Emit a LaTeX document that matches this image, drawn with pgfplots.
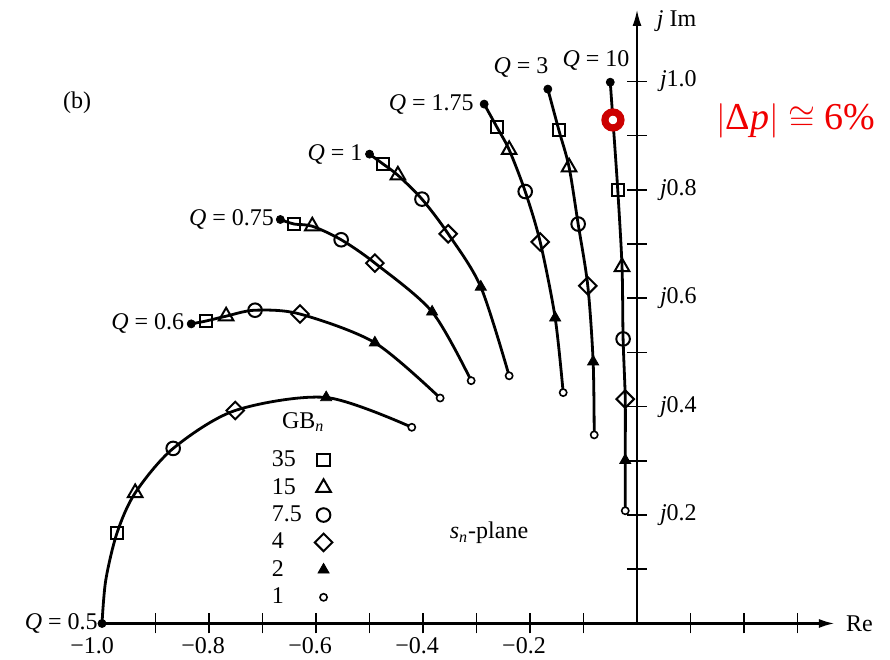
\documentclass[border=0pt]{standalone}
\usepackage{fontspec}
\setmainfont{Liberation Serif}
\usepackage{pgfplots}
\pgfplotsset{compat=1.18}
\usetikzlibrary{arrows.meta}

\definecolor{ringred}{RGB}{204,0,0}
\definecolor{notered}{RGB}{240,0,0}

\begin{document}
\begin{tikzpicture}[font=\fontsize{12}{14}\selectfont]
\begin{axis}[
  x=267.5pt, y=271pt,
  axis lines=middle,
  xmin=-1, xmax=0.37, ymin=0, ymax=1.132,
  enlargelimits=false, clip=false,
  x axis line style={line width=1.3pt, -{Latex[length=8pt,width=4.5pt]}},
  y axis line style={line width=0.8pt, -{Latex[length=8pt,width=4.5pt]}},
  tick style={line width=0.8pt, black},
  major tick length=10pt, tick align=center,
  xtick={-0.9,-0.8,-0.7,-0.6,-0.5,-0.4,-0.3,-0.2,-0.1,0,0.1,0.2,0.3},
  xticklabels={{},{−0.8},{},{−0.6},{},{−0.4},{},{−0.2},{},{0},{},{},{}},
  xticklabel style={xshift=-3pt, yshift=1.5pt},
  extra x ticks={-1},
  extra x tick labels={{\makebox[0pt]{\hspace*{-4pt}−1.0}}},
  extra x tick style={tick style={draw=none}},
  ytick={0.1,0.2,0.3,0.4,0.5,0.6,0.7,0.8,0.9,1.0},
  yticklabels={{},{\textit{j}0.2},{},{\textit{j}0.4},{},{\textit{j}0.6},{},{\textit{j}0.8},{},{\textit{j}1.0}},
  yticklabel style={anchor=west, xshift=13pt},
  xlabel={Re},
  xlabel style={at={(axis cs:0.37,0)}, anchor=west, xshift=2pt},
  ylabel={\textit{j} Im},
  ylabel style={at={(axis cs:0.024,1.112)}, anchor=west, rotate=0},
  legend style={at={(axis cs:-0.689,0.325)}, anchor=north west,
    draw=none, fill=none, inner sep=0pt, row sep=1.3pt, column sep=5pt,
    nodes={inner sep=1.5pt}},
  legend cell align=left,
  legend plot pos=right,
]

% loci for each Q, starting at the ideal pole (GB = infinity)
\pgfplotsset{locus/.style={black, line width=1.4pt, smooth, no marks, forget plot}}
\addplot[locus] coordinates {(-1,0) (-0.993,0.080) (-0.972,0.167) (-0.938,0.241) (-0.867,0.323) (-0.751,0.393) (-0.581,0.417) (-0.421,0.362)};
\addplot[locus] coordinates {(-0.8333,0.5528) (-0.806,0.558) (-0.768,0.567) (-0.714,0.578) (-0.630,0.571) (-0.490,0.518) (-0.368,0.416)};
\addplot[locus] coordinates {(-0.6667,0.7454) (-0.641,0.737) (-0.607,0.733) (-0.553,0.708) (-0.490,0.665) (-0.383,0.575) (-0.310,0.448)};
\addplot[locus] coordinates {(-0.5,0.8660) (-0.475,0.848) (-0.447,0.827) (-0.402,0.783) (-0.353,0.719) (-0.292,0.621) (-0.239,0.457)};
\addplot[locus] coordinates {(-0.2857,0.9583) (-0.262,0.916) (-0.239,0.874) (-0.209,0.797) (-0.181,0.704) (-0.153,0.564) (-0.138,0.426)};
\addplot[locus] coordinates {(-0.1667,0.9860) (-0.146,0.910) (-0.127,0.842) (-0.110,0.737) (-0.092,0.623) (-0.082,0.483) (-0.080,0.348)};
\addplot[locus] coordinates {(-0.05,0.9987) (-0.045,0.929) (-0.036,0.800) (-0.028,0.658) (-0.026,0.525) (-0.022,0.414) (-0.022,0.301) (-0.022,0.208)};

% ideal pole positions
\addplot[only marks, forget plot, mark=*, mark size=2pt, black] coordinates {
  (-1,0) (-0.8333,0.5528) (-0.6667,0.7454) (-0.5,0.8660) (-0.2857,0.9583) (-0.1667,0.9860) (-0.05,0.9987)};

% poles for finite gain-bandwidth GB_n
\addplot[only marks, black, mark=square, mark size=3.1pt, mark options={line width=1pt}] coordinates {
  (-0.972,0.167) (-0.806,0.558) (-0.641,0.737) (-0.475,0.848) (-0.262,0.916) (-0.146,0.910) (-0.036,0.800)};
\addlegendentry{35}
\addplot[only marks, black, mark=triangle, mark size=4.2pt, mark options={line width=1pt}] coordinates {
  (-0.938,0.241) (-0.768,0.567) (-0.607,0.733) (-0.447,0.827) (-0.239,0.874) (-0.127,0.842) (-0.028,0.658)};
\addlegendentry{15}
\addplot[only marks, black, mark=o, mark size=3.4pt, mark options={line width=1pt}] coordinates {
  (-0.867,0.323) (-0.714,0.578) (-0.553,0.708) (-0.402,0.783) (-0.209,0.797) (-0.110,0.737) (-0.026,0.525)};
\addlegendentry{7.5}
\addplot[only marks, black, mark=square, mark size=3.1pt, mark options={line width=1pt, rotate=45}] coordinates {
  (-0.751,0.393) (-0.630,0.571) (-0.490,0.665) (-0.353,0.719) (-0.181,0.704) (-0.092,0.623) (-0.022,0.414)};
\addlegendentry{4}
\addplot[only marks, black, mark=triangle*, mark size=3.2pt] coordinates {
  (-0.581,0.417) (-0.490,0.518) (-0.383,0.575) (-0.292,0.621) (-0.153,0.564) (-0.082,0.483) (-0.022,0.301)};
\addlegendentry{2}
\addplot[only marks, black, mark=*, mark size=1.8pt, mark options={fill=white, line width=0.8pt}] coordinates {
  (-0.421,0.362) (-0.368,0.416) (-0.310,0.448) (-0.239,0.457) (-0.138,0.426) (-0.080,0.348) (-0.022,0.208)};
\addlegendentry{1}

% highlighted pole on the Q = 10 locus
\addplot[only marks, forget plot, mark=*, mark size=4pt, mark options={line width=3.6pt, draw=ringred, fill=white}] coordinates {(-0.045,0.929)};

% annotations
\node[anchor=east, inner sep=2pt] at (axis cs:-1,0) {\textit{Q} = 0.5};
\node[anchor=east] at (axis cs:-0.8333,0.5528) {\textit{Q} = 0.6};
\node[anchor=east, inner sep=3pt] at (axis cs:-0.6667,0.7454) {\textit{Q} = 0.75};
\node[anchor=east] at (axis cs:-0.5,0.8660) {\textit{Q} = 1};
\node[anchor=east, inner sep=5pt] at (axis cs:-0.2857,0.9583) {\textit{Q} = 1.75};
\node at (axis cs:-0.2168,1.025) {\textit{Q} = 3};
\node at (axis cs:-0.0766,1.0397) {\textit{Q} = 10};
\node at (axis cs:-1.0467,0.960) {(b)};
\node at (axis cs:-0.2766,0.167) {\textit{s}\textsubscript{\textit{n}}-plane};
\node at (axis cs:-0.624,0.372) {GB\textsubscript{\textit{n}}};
\node[text=notered, font=\fontsize{19}{23}\selectfont] at (axis cs:0.297,0.927)
  {$\bigl|$Δ\textit{p}$\bigr|$ $\cong$ 6\%};

\coordinate (bl) at (axis cs:-1.1907,-0.0673);
\coordinate (tr) at (axis cs:0.4729,1.1504);
\end{axis}
\pgfresetboundingbox
\useasboundingbox (bl) rectangle (tr);
\end{tikzpicture}
\end{document}
